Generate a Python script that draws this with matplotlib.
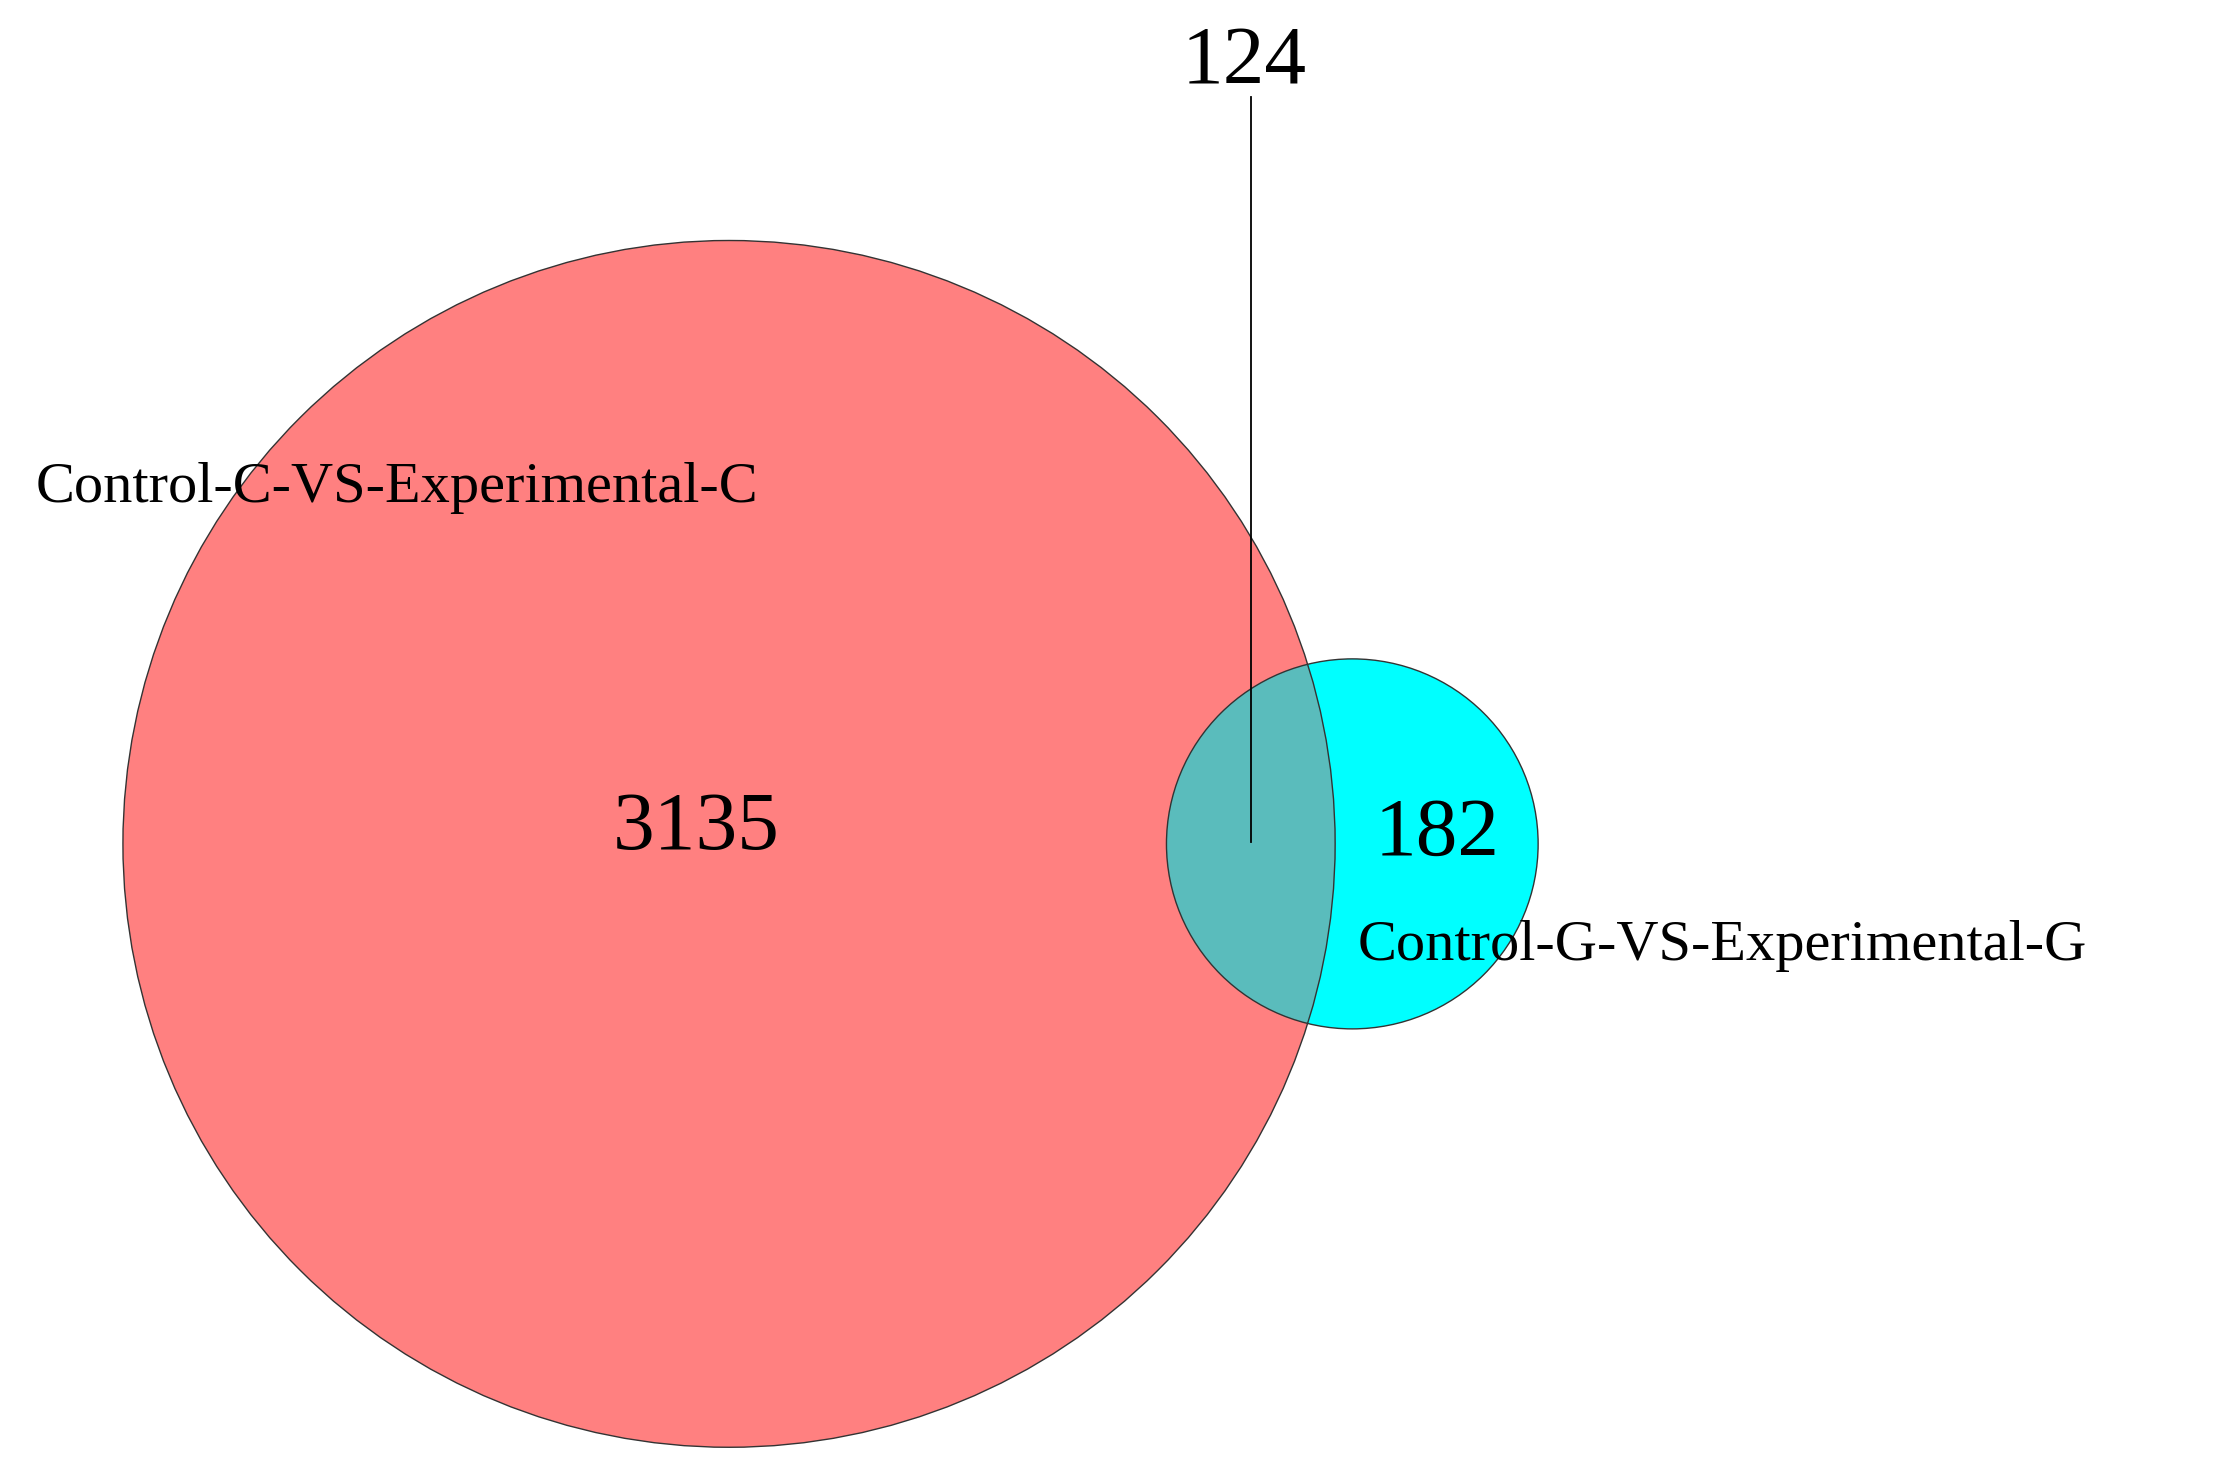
import matplotlib
matplotlib.use("Agg")
import matplotlib.pyplot as plt
from matplotlib.patches import Circle

set_labels = ["Control-C-VS-Experimental-C", "Control-G-VS-Experimental-G"]
only_counts = [3135, 182]
shared_count = 124

plt.rcParams['font.family'] = ['Liberation Serif', 'DejaVu Serif']
fig = plt.figure(figsize=(22.3, 14.8), dpi=100)
ax = fig.add_axes([0, 0, 1, 1])
ax.set_xlim(0, 1560)
ax.set_ylim(1040, 0)
ax.set_aspect('auto')
ax.axis('off')

big = Circle((510, 593), 424, facecolor='#FF8080', edgecolor='none', zorder=1)
small = Circle((946, 593), 130, facecolor='#00FFFF', edgecolor='none', zorder=2)
ax.add_patch(big); ax.add_patch(small)
ov = Circle((946, 593), 130, facecolor='#5ABCBC', edgecolor='none', zorder=3)
ax.add_patch(ov)
ov.set_clip_path(Circle((510, 593), 424, transform=ax.transData))
for c, r in [((510, 593), 424), ((946, 593), 130)]:
    ax.add_patch(Circle(c, r, facecolor='none', edgecolor='#333333', lw=1.0, zorder=4))

ax.text(487, 583, str(only_counts[0]), fontsize=60, ha='center', va='center', zorder=5)
ax.text(1005, 587, str(only_counts[1]), fontsize=60, ha='center', va='center', zorder=5)
ax.text(870, 45, str(shared_count), fontsize=60, ha='center', va='center', zorder=5)
ax.plot([875, 875], [68, 592], color='black', lw=1.3, zorder=5)
ax.text(25, 343, set_labels[0], fontsize=42, ha='left', va='center', zorder=5)
ax.text(950, 665, set_labels[1], fontsize=42, ha='left', va='center', zorder=5)

fig.savefig("out.png", dpi=100, facecolor='white')
